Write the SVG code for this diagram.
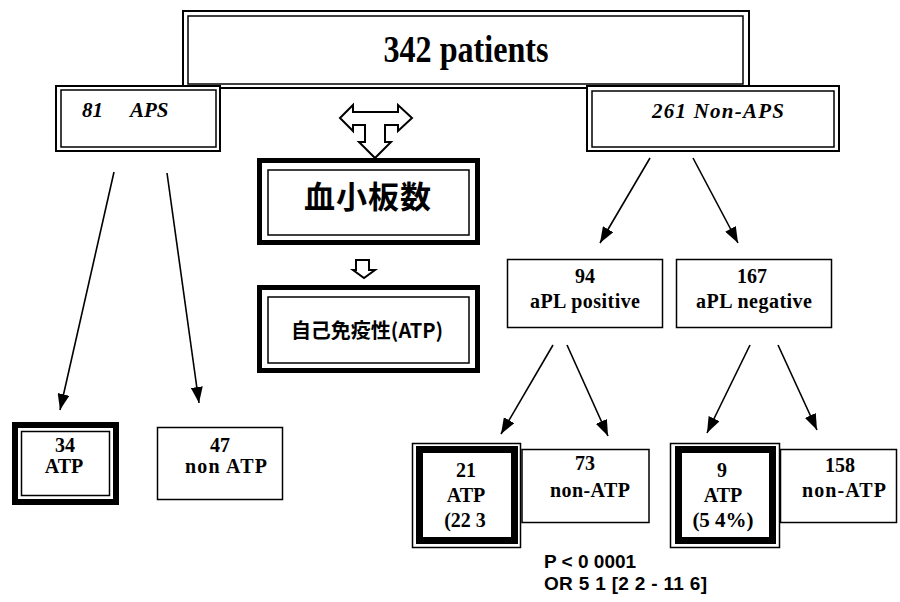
<svg xmlns="http://www.w3.org/2000/svg" width="900" height="602" viewBox="0 0 900 602">
<defs>
<style>
.ln{fill:#fff;stroke:#000;stroke-width:2}
.th{fill:none;stroke:#000;stroke-width:1.5}
.bx{fill:#fff;stroke:#000;stroke-width:1.5}
.tk{fill:none;stroke:#000}
.s{font-family:"Liberation Serif","Times New Roman",serif;font-weight:bold;text-anchor:middle;fill:#000}
.it{font-style:italic;text-anchor:start}
.cjk{font-family:"Noto Sans CJK JP","Noto Sans CJK SC",sans-serif;font-weight:bold;text-anchor:middle;fill:#000}
.sans{font-family:"Liberation Sans",Arial,sans-serif;font-weight:bold;fill:#000}
.c{stroke:#000;stroke-width:1.6;fill:none;marker-end:url(#ah)}
.oa{fill:#fff;stroke:#000;stroke-width:2;stroke-linejoin:miter}
</style>
<marker id="ah" viewBox="0 0 16 12" refX="16" refY="6" markerWidth="16" markerHeight="12" markerUnits="userSpaceOnUse" orient="auto">
<path d="M0,0 L16,6 L0,12 z" fill="#000"/>
</marker>
</defs>

<g id="root">
<rect class="ln" x="183" y="11" width="566" height="77"/>
<rect class="th" x="188" y="16" width="555" height="68" stroke-width="2"/>
<text class="s" x="466" y="62" font-size="38" textLength="165" lengthAdjust="spacingAndGlyphs">342 patients</text>
</g>

<g id="aps">
<rect class="ln" x="56" y="86" width="164" height="65"/>
<rect class="th" x="61" y="90" width="155" height="57" stroke-width="2"/>
<text class="s it" font-size="21" y="117"><tspan x="82">81</tspan><tspan x="130">APS</tspan></text>
</g>

<g id="nonaps">
<rect class="ln" x="587" y="86" width="252" height="65"/>
<rect class="th" x="592" y="91" width="242" height="56" stroke-width="2"/>
<text class="s it" font-size="21" x="652" y="118" textLength="132">261 Non-APS</text>
</g>

<g id="double-arrow">
<polygon class="oa" points="340,118 353,105 353,112 398,112 398,105 412,118 398,131 398,125 385,125 385,142 391,142 375,158 359,142 365,142 365,125 353,125 353,131"/>
</g>

<g id="platelet">
<rect x="259.5" y="160.5" width="218" height="82" fill="#fff" stroke="#000" stroke-width="5"/>
<rect class="th" x="268" y="170" width="201" height="65"/>
<text class="cjk" x="368" y="208" font-size="31" letter-spacing="1">血小板数</text>
</g>

<g id="small-arrow">
<polygon class="oa" stroke-width="1.8" points="356,260 369,260 369,270 375,270 364,278 353,270 356,270"/>
</g>

<g id="autoimmune">
<rect x="259.5" y="287.5" width="218" height="83" fill="#fff" stroke="#000" stroke-width="5"/>
<rect class="th" x="268" y="297" width="201" height="66"/>
<text class="cjk" x="367" y="338" font-size="20">自己免疫性(ATP)</text>
</g>

<g id="apl-pos">
<rect class="bx" x="507.5" y="259.5" width="155" height="68"/>
<text class="s" x="585" y="283" font-size="20">94</text>
<text class="s" x="585" y="308" font-size="20" textLength="110">aPL positive</text>
</g>

<g id="apl-neg">
<rect class="bx" x="676.5" y="259.5" width="155" height="68"/>
<text class="s" x="752" y="283" font-size="20">167</text>
<text class="s" x="754" y="308" font-size="20" textLength="116">aPL negative</text>
</g>

<g id="atp34">
<rect x="15" y="425" width="101" height="77" fill="#fff" stroke="#000" stroke-width="6"/>
<rect class="th" x="21.5" y="431.5" width="88" height="64"/>
<text class="s" x="65" y="452" font-size="20">34</text>
<text class="s" x="64" y="473" font-size="20">ATP</text>
</g>

<g id="nonatp47">
<rect class="bx" x="157.5" y="427.5" width="125" height="72"/>
<text class="s" x="220" y="452" font-size="20">47</text>
<text class="s" x="226" y="473" font-size="20" textLength="82">non ATP</text>
</g>

<g id="atp21">
<rect class="bx" x="412.5" y="443.5" width="108" height="104"/>
<rect class="tk" x="419.5" y="449.5" width="95" height="91" stroke-width="7"/>
<text class="s" x="466" y="477" font-size="20">21</text>
<text class="s" x="466" y="502" font-size="20">ATP</text>
<text class="s" x="465" y="527" font-size="20">(22 3</text>
</g>

<g id="nonatp73">
<rect class="bx" x="522" y="449.5" width="127" height="73"/>
<text class="s" x="585" y="470" font-size="20">73</text>
<text class="s" x="590" y="497" font-size="20" textLength="80">non-ATP</text>
</g>

<g id="atp9">
<rect class="bx" x="670.5" y="443.5" width="109" height="104"/>
<rect class="tk" x="678.5" y="449.5" width="94" height="91" stroke-width="7"/>
<text class="s" x="722" y="477" font-size="20">9</text>
<text class="s" x="723" y="502" font-size="20">ATP</text>
<text class="s" x="723" y="527" font-size="21">(5 4%)</text>
</g>

<g id="nonatp158">
<rect class="bx" x="780.5" y="449.5" width="116" height="73"/>
<text class="s" x="840" y="472" font-size="20">158</text>
<text class="s" x="844" y="497" font-size="20" textLength="84">non-ATP</text>
</g>

<g id="stats">
<text class="sans" x="544" y="568" font-size="19">P &lt; 0 0001</text>
<text class="sans" x="544" y="590" font-size="19" textLength="163">OR 5 1 [2 2 - 11 6]</text>
</g>

<g id="connectors">
<line class="c" x1="114" y1="172" x2="60" y2="410"/>
<line class="c" x1="167" y1="173" x2="199" y2="403"/>
<line class="c" x1="650" y1="158" x2="600" y2="243"/>
<line class="c" x1="693" y1="158" x2="738" y2="243"/>
<line class="c" x1="553" y1="345" x2="501" y2="434"/>
<line class="c" x1="567" y1="345" x2="608" y2="436"/>
<line class="c" x1="750" y1="345" x2="707" y2="433"/>
<line class="c" x1="778" y1="345" x2="817" y2="430"/>
</g>
</svg>
